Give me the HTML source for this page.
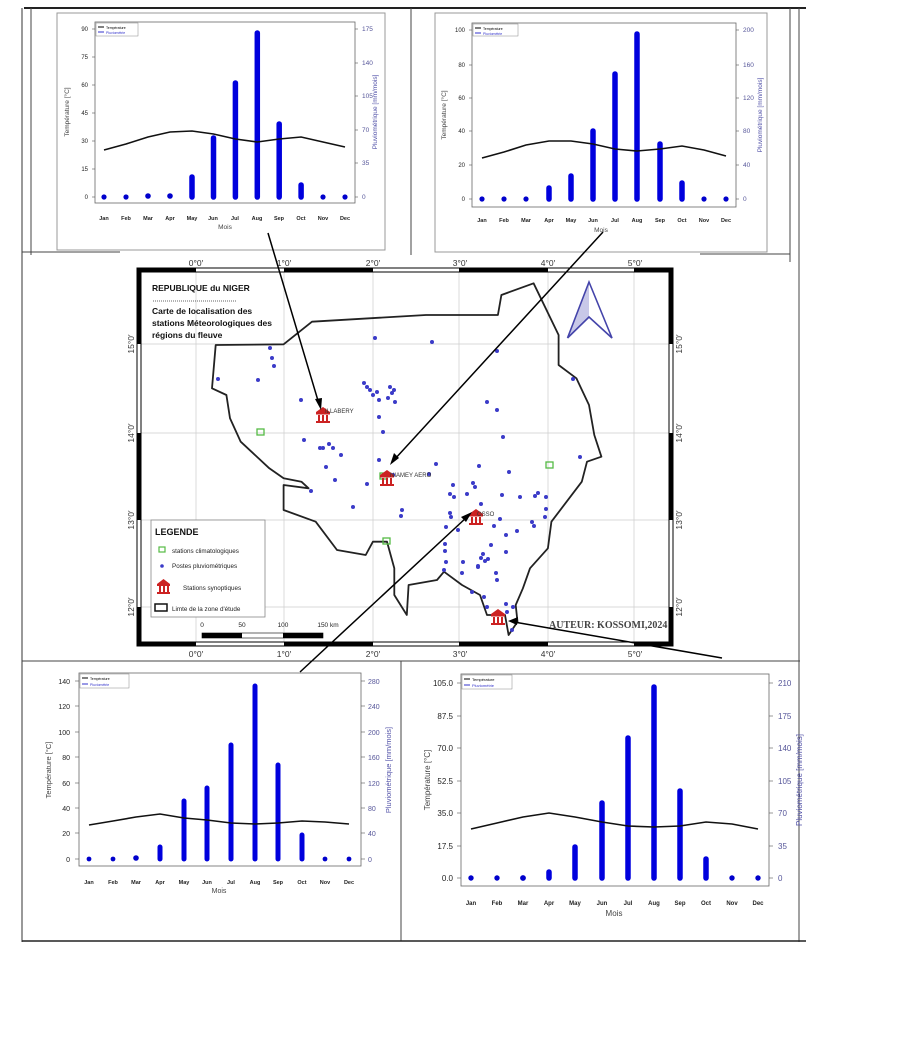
<!DOCTYPE html>
<html><head><meta charset="utf-8"><style>
html,body{margin:0;padding:0;background:#fff;}
svg{display:block;font-family:"Liberation Sans",sans-serif;}
.t{font-size:6px;fill:#222;}
.mo{font-size:5.5px;font-weight:bold;fill:#222;}
.rb{font-size:6.5px;fill:#555599;}
.bar{stroke:#0000dd;stroke-width:5.5;stroke-linecap:round;}
.dot{fill:#0000cc;}
.temp{fill:none;stroke:#111;stroke-width:1.6;}
.pt{fill:#fff;stroke:#111;stroke-width:0.6;}
.pv{fill:#3b3bc8;}
</style></head><body>
<svg width="915" height="1045" viewBox="0 0 915 1045" xmlns="http://www.w3.org/2000/svg">
<!-- outer frames -->
<line x1="24" y1="8" x2="806" y2="8" stroke="#222" stroke-width="2"/>
<line x1="22" y1="8" x2="22" y2="942" stroke="#333" stroke-width="1"/>
<line x1="31" y1="8" x2="31" y2="255" stroke="#444" stroke-width="1"/>
<line x1="411" y1="8" x2="411" y2="255" stroke="#444" stroke-width="1"/>
<line x1="790" y1="8" x2="790" y2="262" stroke="#444" stroke-width="1"/>
<line x1="799" y1="8" x2="799" y2="942" stroke="#444" stroke-width="1"/>
<line x1="22" y1="252" x2="120" y2="252" stroke="#444" stroke-width="1"/>
<line x1="700" y1="254" x2="790" y2="254" stroke="#444" stroke-width="1"/>
<line x1="22" y1="661" x2="800" y2="661" stroke="#444" stroke-width="1"/>
<line x1="401" y1="661" x2="401" y2="941" stroke="#444" stroke-width="1"/>
<line x1="22" y1="941" x2="806" y2="941" stroke="#222" stroke-width="1.5"/>

<!-- ============ CHART 1 ============ -->
<rect x="57" y="13" width="328" height="237" fill="none" stroke="#999" stroke-width="1"/>
<rect x="95" y="22" width="260" height="181" fill="none" stroke="#666" stroke-width="0.8"/>
<rect x="96" y="23" width="42" height="13" fill="#fff" stroke="#888" stroke-width="0.5"/>
<line x1="98" y1="27" x2="104" y2="27" stroke="#000" stroke-width="1"/><text x="106" y="29" style="font-size:3.5px">Température</text>
<line x1="98" y1="32" x2="104" y2="32" stroke="#33c" stroke-width="1"/><text x="106" y="34" style="font-size:3.5px;fill:#33c">Pluviométrie</text>
<g class="t" text-anchor="end">
<text x="88" y="31">90</text><text x="88" y="59">75</text><text x="88" y="87">60</text><text x="88" y="115">45</text><text x="88" y="143">30</text><text x="88" y="171">15</text><text x="88" y="199">0</text></g>
<g stroke="#555" stroke-width="0.6">
<line x1="92" y1="29" x2="95" y2="29"/><line x1="92" y1="57" x2="95" y2="57"/><line x1="92" y1="85" x2="95" y2="85"/><line x1="92" y1="113" x2="95" y2="113"/><line x1="92" y1="141" x2="95" y2="141"/><line x1="92" y1="169" x2="95" y2="169"/><line x1="92" y1="197" x2="95" y2="197"/>
<line x1="355" y1="29" x2="358" y2="29"/><line x1="355" y1="63" x2="358" y2="63"/><line x1="355" y1="96" x2="358" y2="96"/><line x1="355" y1="130" x2="358" y2="130"/><line x1="355" y1="163" x2="358" y2="163"/><line x1="355" y1="197" x2="358" y2="197"/></g>
<g class="rb"><text x="362" y="31">175</text><text x="362" y="65">140</text><text x="362" y="98">105</text><text x="362" y="132">70</text><text x="362" y="165">35</text><text x="362" y="199">0</text></g>
<text transform="translate(69,112) rotate(-90)" text-anchor="middle" style="font-size:6.5px;fill:#444">Température [°C]</text>
<text transform="translate(377,112) rotate(-90)" text-anchor="middle" style="font-size:6.5px;fill:#5555aa">Pluviométrique [mm/mois]</text>
<g class="mo" text-anchor="middle">
<text x="104" y="220">Jan</text><text x="126" y="220">Feb</text><text x="148" y="220">Mar</text><text x="170" y="220">Apr</text><text x="192" y="220">May</text><text x="213" y="220">Jun</text><text x="235" y="220">Jul</text><text x="257" y="220">Aug</text><text x="279" y="220">Sep</text><text x="301" y="220">Oct</text><text x="323" y="220">Nov</text><text x="345" y="220">Dec</text></g>
<text x="225" y="229" text-anchor="middle" style="font-size:6.5px;fill:#444">Mois</text>
<g class="bar"><line x1="192" y1="197" x2="192" y2="177"/><line x1="213.5" y1="197" x2="213.5" y2="138"/><line x1="235.4" y1="197" x2="235.4" y2="83"/><line x1="257.3" y1="197" x2="257.3" y2="33"/><line x1="279.2" y1="197" x2="279.2" y2="124"/><line x1="301.1" y1="197" x2="301.1" y2="185"/></g>
<g class="dot"><circle cx="104" cy="197" r="2.6"/><circle cx="126" cy="197" r="2.6"/><circle cx="148" cy="196" r="2.8"/><circle cx="170" cy="196" r="2.8"/><circle cx="323" cy="197" r="2.6"/><circle cx="345" cy="197" r="2.6"/></g>
<polyline class="temp" points="104,150 126,144 148,137 170,132 192,131 213.5,134 235.4,139 257.3,142 279.2,139 301.1,137 323,142 345,147"/>

<!-- ============ CHART 2 ============ -->
<rect x="435" y="13" width="332" height="239" fill="none" stroke="#999" stroke-width="1"/>
<rect x="472" y="23" width="264" height="184" fill="none" stroke="#666" stroke-width="0.8"/>
<rect x="473" y="24" width="45" height="12" fill="#fff" stroke="#888" stroke-width="0.5"/>
<line x1="475" y1="28" x2="481" y2="28" stroke="#000" stroke-width="1"/><text x="483" y="30" style="font-size:3.5px">Température</text>
<line x1="475" y1="33" x2="481" y2="33" stroke="#33c" stroke-width="1"/><text x="483" y="35" style="font-size:3.5px;fill:#33c">Pluviométrie</text>
<g class="t" text-anchor="end">
<text x="465" y="32">100</text><text x="465" y="67">80</text><text x="465" y="133">40</text><text x="465" y="100">60</text><text x="465" y="167">20</text><text x="465" y="201">0</text></g>
<g stroke="#555" stroke-width="0.6">
<line x1="469" y1="30" x2="472" y2="30"/><line x1="469" y1="65" x2="472" y2="65"/><line x1="469" y1="98" x2="472" y2="98"/><line x1="469" y1="131" x2="472" y2="131"/><line x1="469" y1="165" x2="472" y2="165"/><line x1="469" y1="199" x2="472" y2="199"/>
<line x1="736" y1="30" x2="739" y2="30"/><line x1="736" y1="65" x2="739" y2="65"/><line x1="736" y1="98" x2="739" y2="98"/><line x1="736" y1="131" x2="739" y2="131"/><line x1="736" y1="165" x2="739" y2="165"/><line x1="736" y1="199" x2="739" y2="199"/></g>
<g class="rb"><text x="743" y="32">200</text><text x="743" y="67">160</text><text x="743" y="100">120</text><text x="743" y="133">80</text><text x="743" y="167">40</text><text x="743" y="201">0</text></g>
<text transform="translate(446,115) rotate(-90)" text-anchor="middle" style="font-size:6.5px;fill:#444">Température [°C]</text>
<text transform="translate(762,115) rotate(-90)" text-anchor="middle" style="font-size:6.5px;fill:#5555aa">Pluviométrique [mm/mois]</text>
<g class="mo" text-anchor="middle">
<text x="482" y="222">Jan</text><text x="504" y="222">Feb</text><text x="526" y="222">Mar</text><text x="549" y="222">Apr</text><text x="571" y="222">May</text><text x="593" y="222">Jun</text><text x="615" y="222">Jul</text><text x="637" y="222">Aug</text><text x="660" y="222">Sep</text><text x="682" y="222">Oct</text><text x="704" y="222">Nov</text><text x="726" y="222">Dec</text></g>
<text x="601" y="232" text-anchor="middle" style="font-size:6.5px;fill:#444">Mois</text>
<g class="bar"><line x1="549" y1="199" x2="549" y2="188"/><line x1="571" y1="199" x2="571" y2="176"/><line x1="593" y1="199" x2="593" y2="131"/><line x1="615" y1="199" x2="615" y2="74"/><line x1="637" y1="199" x2="637" y2="34"/><line x1="660" y1="199" x2="660" y2="144"/><line x1="682" y1="199" x2="682" y2="183"/></g>
<g class="dot"><circle cx="482" cy="199" r="2.6"/><circle cx="504" cy="199" r="2.6"/><circle cx="526" cy="199" r="2.6"/><circle cx="704" cy="199" r="2.6"/><circle cx="726" cy="199" r="2.6"/></g>
<polyline class="temp" points="482,158 504,152 526,145 549,141 571,141 593,144 615,149 637,151 660,149 682,146 704,150 726,156"/>

<!-- ============ MAP ============ -->
<text x="196" y="266" text-anchor="middle" style="font-size:8.5px;fill:#333">0°0′</text>
<text x="284" y="266" text-anchor="middle" style="font-size:8.5px;fill:#333">1°0′</text>
<text x="373" y="266" text-anchor="middle" style="font-size:8.5px;fill:#333">2°0′</text>
<text x="460" y="266" text-anchor="middle" style="font-size:8.5px;fill:#333">3°0′</text>
<text x="548" y="266" text-anchor="middle" style="font-size:8.5px;fill:#333">4°0′</text>
<text x="635" y="266" text-anchor="middle" style="font-size:8.5px;fill:#333">5°0′</text>
<text x="196" y="657" text-anchor="middle" style="font-size:8.5px;fill:#333">0°0′</text>
<text x="284" y="657" text-anchor="middle" style="font-size:8.5px;fill:#333">1°0′</text>
<text x="373" y="657" text-anchor="middle" style="font-size:8.5px;fill:#333">2°0′</text>
<text x="460" y="657" text-anchor="middle" style="font-size:8.5px;fill:#333">3°0′</text>
<text x="548" y="657" text-anchor="middle" style="font-size:8.5px;fill:#333">4°0′</text>
<text x="635" y="657" text-anchor="middle" style="font-size:8.5px;fill:#333">5°0′</text>
<g style="font-size:8.5px;fill:#333" text-anchor="middle">
<text transform="translate(134,344) rotate(-90)">15°0′</text><text transform="translate(134,433) rotate(-90)">14°0′</text><text transform="translate(134,520) rotate(-90)">13°0′</text><text transform="translate(134,607) rotate(-90)">12°0′</text>
<text transform="translate(682,344) rotate(-90)">15°0′</text><text transform="translate(682,433) rotate(-90)">14°0′</text><text transform="translate(682,520) rotate(-90)">13°0′</text><text transform="translate(682,607) rotate(-90)">12°0′</text></g>
<!-- grid -->
<g stroke="#ccc" stroke-width="0.7">
<line x1="196" y1="272" x2="196" y2="642"/><line x1="284" y1="272" x2="284" y2="642"/><line x1="373" y1="272" x2="373" y2="642"/><line x1="459" y1="272" x2="459" y2="642"/><line x1="548" y1="272" x2="548" y2="642"/><line x1="634" y1="272" x2="634" y2="642"/>
<line x1="141" y1="344" x2="669" y2="344"/><line x1="141" y1="433" x2="669" y2="433"/><line x1="141" y1="520" x2="669" y2="520"/><line x1="141" y1="607" x2="669" y2="607"/></g>
<!-- frame -->
<rect x="139" y="270" width="532" height="374" fill="none" stroke="#000" stroke-width="5"/>
<g stroke="#fff" stroke-width="3">
<line x1="196" y1="270" x2="284" y2="270"/><line x1="373" y1="270" x2="459" y2="270"/><line x1="548" y1="270" x2="634" y2="270"/>
<line x1="196" y1="644" x2="284" y2="644"/><line x1="373" y1="644" x2="459" y2="644"/><line x1="548" y1="644" x2="634" y2="644"/>
<line x1="139" y1="344" x2="139" y2="433"/><line x1="139" y1="520" x2="139" y2="607"/>
<line x1="671" y1="344" x2="671" y2="433"/><line x1="671" y1="520" x2="671" y2="607"/></g>
<!-- Niger boundary -->
<polygon fill="none" stroke="#222" stroke-width="1.8" stroke-linejoin="round" points="215.7,345 283.6,344.3 312,321.7 426,315 497.9,315 501.4,295 533.6,283.3 558.6,335 558.6,365 576.4,378.3 589,405 594.3,435 601.4,456.7 587,461.7 581.8,481.7 551.4,521.7 547.9,548.3 530,568.3 522.9,588.3 515.7,605 517.5,621.7 508.6,635 505,615 487,615 480,595 462,585 444,571.7 437,580 408.6,585 406.8,615 394.3,595 394.3,568.3 387,541.7 372.9,541.7 365.7,555 337,550 315.7,521.7 283.6,510 283.6,485 308.6,488.3 301.4,481.7 283.6,478.3 269.3,468.3 240.7,441.7 230,418.3 226.4,395 212,388.3"/>
<!-- title -->
<text x="152" y="291" style="font-size:8.5px;font-weight:bold;fill:#111">REPUBLIQUE du NIGER</text>
<line x1="153" y1="301" x2="237" y2="301" stroke="#333" stroke-width="0.8" stroke-dasharray="1,1"/>
<text x="152" y="314" style="font-size:8.5px;font-weight:bold;fill:#111">Carte de localisation des</text>
<text x="152" y="326" style="font-size:8.5px;font-weight:bold;fill:#111">stations Méteorologiques des</text>
<text x="152" y="338" style="font-size:8.5px;font-weight:bold;fill:#111">régions du fleuve</text>
<!-- north arrow -->
<polygon points="589,282 589,317 567.5,338" fill="#c8c8e8"/>
<polyline points="567.5,338 589,282 612,338 589,317 567.5,338" fill="none" stroke="#4444aa" stroke-width="1.6"/>
<!-- rain gauges -->
<g class="pv">
<circle cx="270" cy="348" r="2"/><circle cx="272" cy="358" r="2"/><circle cx="274" cy="366" r="2"/><circle cx="218" cy="379" r="2"/><circle cx="258" cy="380" r="2"/><circle cx="301" cy="400" r="2"/><circle cx="364" cy="383" r="2"/><circle cx="367" cy="387" r="2"/><circle cx="370" cy="390" r="2"/><circle cx="373" cy="395" r="2"/><circle cx="377" cy="392" r="2"/><circle cx="379" cy="400" r="2"/><circle cx="390" cy="387" r="2"/><circle cx="392" cy="393" r="2"/><circle cx="394" cy="390" r="2"/><circle cx="388" cy="398" r="2"/><circle cx="395" cy="402" r="2"/><circle cx="379" cy="417" r="2"/><circle cx="383" cy="432" r="2"/><circle cx="304" cy="440" r="2"/><circle cx="329" cy="444" r="2"/><circle cx="320" cy="448" r="2"/><circle cx="323" cy="448" r="2"/><circle cx="333" cy="448" r="2"/><circle cx="341" cy="455" r="2"/><circle cx="326" cy="467" r="2"/><circle cx="335" cy="480" r="2"/><circle cx="311" cy="491" r="2"/><circle cx="353" cy="507" r="2"/><circle cx="379" cy="460" r="2"/><circle cx="375" cy="338" r="2"/><circle cx="432" cy="342" r="2"/><circle cx="497" cy="351" r="2"/><circle cx="487" cy="402" r="2"/><circle cx="497" cy="410" r="2"/><circle cx="503" cy="437" r="2"/><circle cx="479" cy="466" r="2"/><circle cx="509" cy="472" r="2"/><circle cx="573" cy="379" r="2"/><circle cx="580" cy="457" r="2"/><circle cx="436" cy="464" r="2"/><circle cx="429" cy="474" r="2"/><circle cx="473" cy="483" r="2"/><circle cx="475" cy="487" r="2"/><circle cx="453" cy="485" r="2"/><circle cx="450" cy="494" r="2"/><circle cx="454" cy="497" r="2"/><circle cx="467" cy="494" r="2"/><circle cx="502" cy="495" r="2"/><circle cx="520" cy="497" r="2"/><circle cx="535" cy="496" r="2"/><circle cx="538" cy="493" r="2"/><circle cx="546" cy="497" r="2"/><circle cx="546" cy="509" r="2"/><circle cx="545" cy="517" r="2"/><circle cx="481" cy="504" r="2"/><circle cx="500" cy="519" r="2"/><circle cx="494" cy="526" r="2"/><circle cx="534" cy="526" r="2"/><circle cx="532" cy="522" r="2"/><circle cx="517" cy="531" r="2"/><circle cx="450" cy="513" r="2"/><circle cx="451" cy="517" r="2"/><circle cx="446" cy="527" r="2"/><circle cx="458" cy="530" r="2"/><circle cx="445" cy="544" r="2"/><circle cx="445" cy="551" r="2"/><circle cx="446" cy="562" r="2"/><circle cx="463" cy="562" r="2"/><circle cx="483" cy="554" r="2"/><circle cx="481" cy="558" r="2"/><circle cx="485" cy="561" r="2"/><circle cx="478" cy="567" r="2"/><circle cx="491" cy="545" r="2"/><circle cx="506" cy="535" r="2"/><circle cx="506" cy="552" r="2"/><circle cx="488" cy="559" r="2"/><circle cx="444" cy="570" r="2"/><circle cx="462" cy="573" r="2"/><circle cx="478" cy="566" r="2"/><circle cx="496" cy="573" r="2"/><circle cx="497" cy="580" r="2"/><circle cx="472" cy="592" r="2"/><circle cx="484" cy="597" r="2"/><circle cx="487" cy="607" r="2"/><circle cx="506" cy="604" r="2"/><circle cx="507" cy="612" r="2"/><circle cx="513" cy="607" r="2"/><circle cx="512" cy="630" r="2"/><circle cx="402" cy="510" r="2"/><circle cx="401" cy="516" r="2"/><circle cx="393" cy="475" r="2"/><circle cx="367" cy="484" r="2"/></g>
<!-- climatological stations -->
<g fill="none" stroke="#55bb44" stroke-width="1.3">
<rect x="257" y="429" width="7" height="6"/><rect x="380" y="473" width="7" height="6"/><rect x="383" y="538" width="7" height="6"/><rect x="546" y="462" width="7" height="6"/></g>
<!-- synoptic -->
<g fill="#cc2222">
<rect x="316" y="412" width="14" height="2.5"/><rect x="318" y="415" width="2" height="6"/><rect x="322" y="415" width="2" height="6"/><rect x="326" y="415" width="2" height="6"/><rect x="316" y="421" width="14" height="2"/><polygon points="316,412 323,407 330,412"/>
<rect x="380" y="475" width="14" height="2.5"/><rect x="382" y="478" width="2" height="6"/><rect x="386" y="478" width="2" height="6"/><rect x="390" y="478" width="2" height="6"/><rect x="380" y="484" width="14" height="2"/><polygon points="380,475 387,470 394,475"/>
<rect x="469" y="514" width="14" height="2.5"/><rect x="471" y="517" width="2" height="6"/><rect x="475" y="517" width="2" height="6"/><rect x="479" y="517" width="2" height="6"/><rect x="469" y="523" width="14" height="2"/><polygon points="469,514 476,509 483,514"/>
<rect x="491" y="614" width="14" height="2.5"/><rect x="493" y="617" width="2" height="6"/><rect x="497" y="617" width="2" height="6"/><rect x="501" y="617" width="2" height="6"/><rect x="491" y="623" width="14" height="2"/><polygon points="491,614 498,609 505,614"/></g>
<text x="325" y="413" style="font-size:6px;fill:#333">ILLABERY</text>
<text x="390" y="477" style="font-size:6px;fill:#333">NIAMEY AERO</text>
<text x="477" y="516" style="font-size:6px;fill:#333">OSSO</text>
<text x="549" y="628" style="font-size:10px;font-family:'Liberation Serif',serif;font-weight:bold;fill:#444">AUTEUR: KOSSOMI,2024</text>
<!-- legend -->
<rect x="151" y="520" width="114" height="97" fill="#fff" stroke="#888" stroke-width="0.8"/>
<text x="155" y="535" style="font-size:9px;font-weight:bold;fill:#111">LEGENDE</text>
<rect x="159" y="547" width="6" height="5" fill="none" stroke="#55bb44" stroke-width="1.2"/>
<text x="172" y="553" style="font-size:6.3px;fill:#222">stations climatologiques</text>
<circle cx="162" cy="566" r="1.8" fill="#3b3bc8"/>
<text x="172" y="568" style="font-size:6.3px;fill:#222">Postes pluviométriques</text>
<g fill="#cc2222"><rect x="157" y="584" width="13" height="2"/><rect x="159" y="586" width="2" height="6"/><rect x="163" y="586" width="2" height="6"/><rect x="167" y="586" width="2" height="6"/><rect x="157" y="592" width="13" height="2"/><polygon points="157,584 163.5,579 170,584"/></g>
<text x="183" y="590" style="font-size:6.3px;fill:#222">Stations synoptiques</text>
<rect x="155" y="604" width="12" height="7" fill="none" stroke="#111" stroke-width="1.5"/>
<text x="172" y="611" style="font-size:6.3px;fill:#222">Limte de la zone d'étude</text>
<!-- scale bar -->
<g style="font-size:6.5px;fill:#222" text-anchor="middle"><text x="202" y="627">0</text><text x="242" y="627">50</text><text x="283" y="627">100</text><text x="328" y="627">150 km</text></g>
<rect x="202" y="633" width="121" height="5" fill="#fff" stroke="#000" stroke-width="0.6"/>
<rect x="202" y="633" width="40" height="5" fill="#000"/><rect x="283" y="633" width="40" height="5" fill="#000"/>
<!-- arrows -->
<g stroke="#000" stroke-width="1.5" fill="none">
<line x1="268" y1="233" x2="319" y2="404"/>
<line x1="603" y1="232" x2="394" y2="460"/>
<line x1="300" y1="672" x2="467" y2="517"/>
<line x1="722" y1="658" x2="514" y2="622"/></g>
<g fill="#000">
<polygon points="321,410 315,399 322,398"/>
<polygon points="390,465 394,453 399,458"/>
<polygon points="472,512 466,522 461,517"/>
<polygon points="508,621 518,617 517,625"/></g>

<!-- ============ CHART 3 ============ -->
<rect x="79" y="673" width="282" height="193" fill="none" stroke="#666" stroke-width="0.8"/>
<rect x="80" y="674" width="49" height="14" fill="#fff" stroke="#888" stroke-width="0.5"/>
<line x1="82" y1="678" x2="88" y2="678" stroke="#000" stroke-width="1"/><text x="90" y="680" style="font-size:3.5px">Température</text>
<line x1="82" y1="684" x2="88" y2="684" stroke="#33c" stroke-width="1"/><text x="90" y="686" style="font-size:3.5px;fill:#33c">Pluviométrie</text>
<g class="t" text-anchor="end" style="font-size:7px">
<text x="70" y="684">140</text><text x="70" y="709">120</text><text x="70" y="735">100</text><text x="70" y="760">80</text><text x="70" y="786">60</text><text x="70" y="811">40</text><text x="70" y="836">20</text><text x="70" y="862">0</text></g>
<g stroke="#555" stroke-width="0.6">
<line x1="75" y1="681" x2="79" y2="681"/><line x1="75" y1="706" x2="79" y2="706"/><line x1="75" y1="732" x2="79" y2="732"/><line x1="75" y1="757" x2="79" y2="757"/><line x1="75" y1="783" x2="79" y2="783"/><line x1="75" y1="808" x2="79" y2="808"/><line x1="75" y1="833" x2="79" y2="833"/><line x1="75" y1="859" x2="79" y2="859"/>
<line x1="361" y1="681" x2="365" y2="681"/><line x1="361" y1="706" x2="365" y2="706"/><line x1="361" y1="732" x2="365" y2="732"/><line x1="361" y1="757" x2="365" y2="757"/><line x1="361" y1="783" x2="365" y2="783"/><line x1="361" y1="808" x2="365" y2="808"/><line x1="361" y1="833" x2="365" y2="833"/><line x1="361" y1="859" x2="365" y2="859"/></g>
<g class="rb" style="font-size:7px"><text x="368" y="684">280</text><text x="368" y="709">240</text><text x="368" y="735">200</text><text x="368" y="760">160</text><text x="368" y="786">120</text><text x="368" y="811">80</text><text x="368" y="836">40</text><text x="368" y="862">0</text></g>
<text transform="translate(51,770) rotate(-90)" text-anchor="middle" style="font-size:7.5px;fill:#444">Température [°C]</text>
<text transform="translate(391,770) rotate(-90)" text-anchor="middle" style="font-size:7.5px;fill:#5555aa">Pluviométrique [mm/mois]</text>
<g class="mo" text-anchor="middle">
<text x="89" y="884">Jan</text><text x="113" y="884">Feb</text><text x="136" y="884">Mar</text><text x="160" y="884">Apr</text><text x="184" y="884">May</text><text x="207" y="884">Jun</text><text x="231" y="884">Jul</text><text x="255" y="884">Aug</text><text x="278" y="884">Sep</text><text x="302" y="884">Oct</text><text x="325" y="884">Nov</text><text x="349" y="884">Dec</text></g>
<text x="219" y="893" text-anchor="middle" style="font-size:7px;fill:#444">Mois</text>
<g class="bar" style="stroke-width:5"><line x1="160" y1="859" x2="160" y2="847"/><line x1="184" y1="859" x2="184" y2="801"/><line x1="207" y1="859" x2="207" y2="788"/><line x1="231" y1="859" x2="231" y2="745"/><line x1="255" y1="859" x2="255" y2="686"/><line x1="278" y1="859" x2="278" y2="765"/><line x1="302" y1="859" x2="302" y2="835"/></g>
<g class="dot"><circle cx="89" cy="859" r="2.4"/><circle cx="113" cy="859" r="2.4"/><circle cx="136" cy="858" r="2.8"/><circle cx="325" cy="859" r="2.4"/><circle cx="349" cy="859" r="2.4"/></g>
<polyline class="temp" points="89,825 113,821 136,817 160,814 184,818 207,820 231,823 255,824 278,823 302,821 325,822 349,824"/>

<!-- ============ CHART 4 ============ -->
<rect x="461" y="674" width="308" height="212" fill="none" stroke="#666" stroke-width="0.8"/>
<rect x="462" y="675" width="50" height="14" fill="#fff" stroke="#888" stroke-width="0.5"/>
<line x1="464" y1="679" x2="470" y2="679" stroke="#000" stroke-width="1"/><text x="472" y="681" style="font-size:4px">Température</text>
<line x1="464" y1="685" x2="470" y2="685" stroke="#33c" stroke-width="1"/><text x="472" y="687" style="font-size:4px;fill:#33c">Pluviométrie</text>
<g class="t" text-anchor="end" style="font-size:8px">
<text x="453" y="686">105.0</text><text x="453" y="719">87.5</text><text x="453" y="751">70.0</text><text x="453" y="784">52.5</text><text x="453" y="816">35.0</text><text x="453" y="849">17.5</text><text x="453" y="881">0.0</text></g>
<g stroke="#555" stroke-width="0.6">
<line x1="457" y1="683" x2="461" y2="683"/><line x1="457" y1="716" x2="461" y2="716"/><line x1="457" y1="748" x2="461" y2="748"/><line x1="457" y1="781" x2="461" y2="781"/><line x1="457" y1="813" x2="461" y2="813"/><line x1="457" y1="846" x2="461" y2="846"/><line x1="457" y1="878" x2="461" y2="878"/>
<line x1="769" y1="683" x2="773" y2="683"/><line x1="769" y1="716" x2="773" y2="716"/><line x1="769" y1="748" x2="773" y2="748"/><line x1="769" y1="781" x2="773" y2="781"/><line x1="769" y1="813" x2="773" y2="813"/><line x1="769" y1="846" x2="773" y2="846"/><line x1="769" y1="878" x2="773" y2="878"/></g>
<g class="rb" style="font-size:8px"><text x="778" y="686">210</text><text x="778" y="719">175</text><text x="778" y="751">140</text><text x="778" y="784">105</text><text x="778" y="816">70</text><text x="778" y="849">35</text><text x="778" y="881">0</text></g>
<text transform="translate(430,780) rotate(-90)" text-anchor="middle" style="font-size:8px;fill:#444">Température [°C]</text>
<text transform="translate(802,780) rotate(-90)" text-anchor="middle" style="font-size:8px;fill:#5555aa">Pluviométrique [mm/mois]</text>
<g class="mo" text-anchor="middle" style="font-size:6px">
<text x="471" y="905">Jan</text><text x="497" y="905">Feb</text><text x="523" y="905">Mar</text><text x="549" y="905">Apr</text><text x="575" y="905">May</text><text x="602" y="905">Jun</text><text x="628" y="905">Jul</text><text x="654" y="905">Aug</text><text x="680" y="905">Sep</text><text x="706" y="905">Oct</text><text x="732" y="905">Nov</text><text x="758" y="905">Dec</text></g>
<text x="614" y="916" text-anchor="middle" style="font-size:8px;fill:#444">Mois</text>
<g class="bar"><line x1="549" y1="878" x2="549" y2="872"/><line x1="575" y1="878" x2="575" y2="847"/><line x1="602" y1="878" x2="602" y2="803"/><line x1="628" y1="878" x2="628" y2="738"/><line x1="654" y1="878" x2="654" y2="687"/><line x1="680" y1="878" x2="680" y2="791"/><line x1="706" y1="878" x2="706" y2="859"/></g>
<g class="dot"><circle cx="471" cy="878" r="2.7"/><circle cx="497" cy="878" r="2.7"/><circle cx="523" cy="878" r="2.9"/><circle cx="732" cy="878" r="2.7"/><circle cx="758" cy="878" r="2.7"/></g>
<polyline class="temp" points="471,829 497,823 523,817 549,813 575,817 602,822 628,826 654,827 680,826 706,822 732,824 758,829"/>
</svg>
</body></html>
